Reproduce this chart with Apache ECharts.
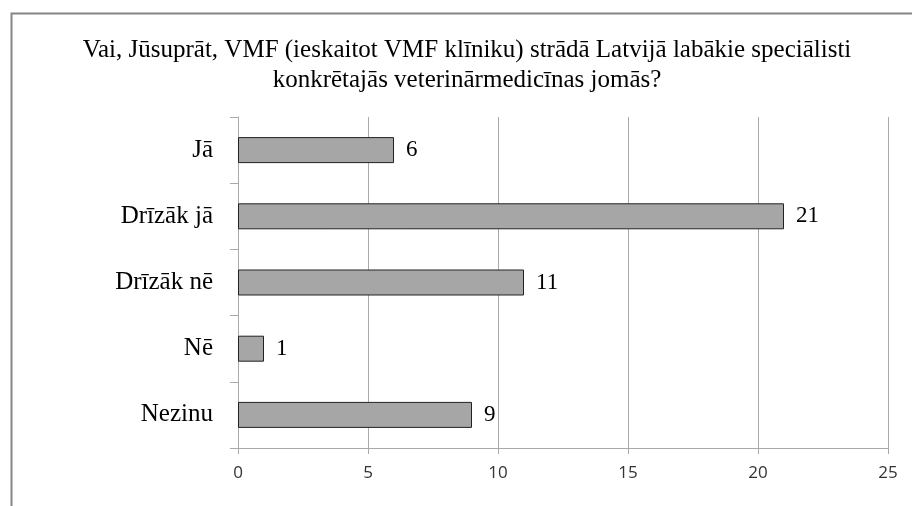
<!DOCTYPE html>
<html><head><meta charset="utf-8">
<script src="https://cdn.jsdelivr.net/npm/echarts@6/dist/echarts.min.js"></script>
<style>html,body{margin:0;padding:0;background:#fff}#c{width:912px;height:506px}</style>
</head><body><div id="c"></div>
<script>
const titleText = "Vai, Jūsuprāt, VMF (ieskaitot VMF klīniku) strādā Latvijā labākie speciālisti\nkonkrētajās veterinārmedicīnas jomās?";
const categories = ["Jā", "Drīzāk jā", "Drīzāk nē", "Nē", "Nezinu"];
const values = [6, 21, 11, 1, 9];
const xTicks = [0, 5, 10, 15, 20, 25];

const chart = echarts.init(document.getElementById('c'));
chart.setOption({
  animation: false,
  backgroundColor: '#fff',
  graphic: [{
    type: 'rect', left: 9, top: 11,
    shape: { width: 1000, height: 600 },
    style: { fill: 'none', stroke: '#858585', lineWidth: 2 }, z: -1
  }],
  title: {
    text: titleText, left: 462, top: 30, textAlign: 'center',
    textStyle: { fontFamily: 'Liberation Serif', fontSize: 25, fontWeight: 'normal', color: '#000', lineHeight: 30 }
  },
  grid: { left: 238, top: 117, width: 650, height: 331 },
  xAxis: {
    type: 'value', min: xTicks[0], max: xTicks[xTicks.length - 1], interval: 5,
    axisLine: { show: true, lineStyle: { color: '#aaa', width: 1 } },
    axisTick: { show: true, length: 6, lineStyle: { color: '#aaa' } },
    splitLine: { show: true, lineStyle: { color: '#aaa', width: 1 } },
    axisLabel: { margin: 17, fontFamily: 'Open Sans', fontSize: 17, color: '#333' }
  },
  yAxis: {
    type: 'category', data: categories, inverse: true,
    axisLine: { show: true, lineStyle: { color: '#aaa', width: 1 } },
    axisTick: { show: true, length: 8, lineStyle: { color: '#aaa' } },
    axisLabel: { margin: 25, fontFamily: 'Liberation Serif', fontSize: 25, color: '#000' }
  },
  series: [{
    type: 'bar', data: values, barWidth: 26,
    itemStyle: { color: '#a6a6a6', borderColor: '#222', borderWidth: 1 },
    label: { show: true, position: 'right', distance: 12, fontFamily: 'Liberation Serif', fontSize: 23, color: '#000' }
  }]
});
</script></body></html>
